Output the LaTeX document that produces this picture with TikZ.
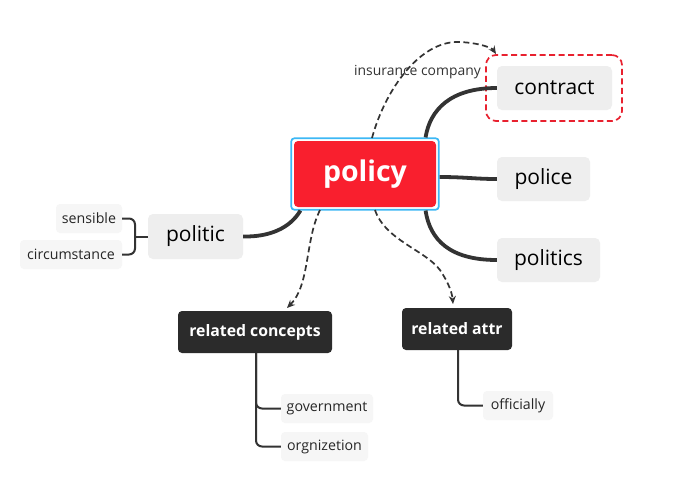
\documentclass[tikz,border=0pt]{standalone}
\usepackage{fontspec}
\setmainfont{Open Sans}
\usetikzlibrary{fit,arrows.meta}
\definecolor{redbox}{HTML}{F91F2E}
\definecolor{bluel}{HTML}{3DB8F5}
\definecolor{graybox}{HTML}{EEEEEE}
\definecolor{lightbox}{HTML}{F6F6F6}
\definecolor{darkbox}{HTML}{2B2B2B}
\definecolor{linec}{HTML}{333333}
\definecolor{reddash}{HTML}{E8212F}
\begin{document}
\begin{tikzpicture}[x=1pt,y=-1pt,
  mainbox/.style={fill=graybox, rounded corners=5pt, inner sep=0pt, text=black, font=\fontsize{21}{24}\selectfont},
  smallbox/.style={fill=lightbox, rounded corners=4pt, inner sep=0pt, text=black!85, font=\fontsize{14.2}{16}\selectfont},
  darkn/.style={fill=darkbox, rounded corners=4pt, inner sep=0pt, text=white, font=\bfseries\fontsize{15.8}{18}\selectfont},
  thickline/.style={draw=linec, line width=3.8pt},
  thinline/.style={draw=linec, line width=2pt, rounded corners=6pt},
  dasharrow/.style={draw=linec, line width=1.7pt, dash pattern=on 6pt off 3.5pt, -{Stealth[length=8pt,width=7pt]}}
]
\useasboundingbox (0,0) rectangle (696,496);
\fill[white] (0,0) rectangle (696,496);

\node[fill=redbox, rounded corners=4pt, minimum width=142pt, minimum height=66pt, inner sep=0pt, text=white, font=\bfseries\fontsize{28.5}{32}\selectfont] (policy) at (365,174) {policy};
\node[fit=(policy), inner sep=2.5pt, draw=bluel, line width=1.7pt, rounded corners=3pt] (policyfr) {};

\node[mainbox, minimum width=115pt, minimum height=44pt] (contract) at (554.5,88) {contract};
\node[draw=reddash, line width=1.7pt, dash pattern=on 6pt off 3.5pt, rounded corners=10pt, minimum width=136pt, minimum height=66pt] (cfr) at (554,88) {};
\node[mainbox, minimum width=93pt, minimum height=44pt] (police) at (543.5,179) {police};
\node[mainbox, minimum width=103pt, minimum height=44pt] (politics) at (548.5,260) {politics};
\node[mainbox, minimum width=95pt, minimum height=45pt] (politic) at (195.5,236.5) {politic};

\node[smallbox, minimum width=66pt, minimum height=29pt] (sensible) at (89,218.5) {sensible};
\node[smallbox, minimum width=102pt, minimum height=29pt] (circ) at (71,254.5) {circumstance};

\node[darkn, minimum width=154pt, minimum height=42pt] (rc) at (255,332) {related concepts};
\node[darkn, minimum width=110pt, minimum height=42pt] (ra) at (457,329) {related attr};

\node[smallbox, minimum width=92pt, minimum height=29pt] (gov) at (327,408.5) {government};
\node[smallbox, minimum width=87pt, minimum height=29pt] (org) at (324.5,446.5) {orgnizetion};
\node[smallbox, minimum width=70pt, minimum height=29pt] (off) at (518,405.5) {officially};

% main branches
\draw[thickline] ([xshift=-14pt]policyfr.north east) .. controls (430,110) and (450,88) .. (contract.west);
\draw[thickline] (policyfr.east |- 0,177) .. controls (465,177) and (475,179) .. (police.west);
\draw[thickline] ([xshift=-14pt]policyfr.south east) .. controls (430,240) and (450,260) .. (politics.west);
\draw[thickline] ([xshift=10pt]policyfr.south west) .. controls (290,228) and (270,237) .. (politic.east);

% politic bracket
\coordinate (br) at (135,236.5);
\draw[thinline] (politic.west) -- (br);
\draw[thinline] (sensible.east) -- (135,218.5) -- (135,254.5) -- (circ.east);

% related concepts children
\coordinate (rcb) at (256,353);
\draw[thinline] (rcb) -- (256,408.5) -- (gov.west);
\draw[thinline] (rcb) -- (256,446.5) -- (org.west);
\coordinate (rab) at (458,350);
\draw[thinline] (rab) -- (458,405.5) -- (off.west);

% dashed arrows
\coordinate (ds1) at (372,138);
\draw[dasharrow] (ds1) .. controls (385,90) and (420,40) .. (460,42) .. controls (480,43) and (492,48) .. (496,54);
\node[font=\fontsize{13.9}{16}\selectfont, text=black!80, anchor=east, inner sep=0pt] (ins) at (481,72) {insurance company};

\coordinate (ds2) at (320,210);
\draw[dasharrow] (ds2) .. controls (305,240) and (310,285) .. (287,308);
\coordinate (ds3) at (375,210);
\draw[dasharrow] (ds3) .. controls (385,240) and (425,250) .. (440,270) .. controls (448,282) and (452,292) .. (453,304);
\end{tikzpicture}
\end{document}
